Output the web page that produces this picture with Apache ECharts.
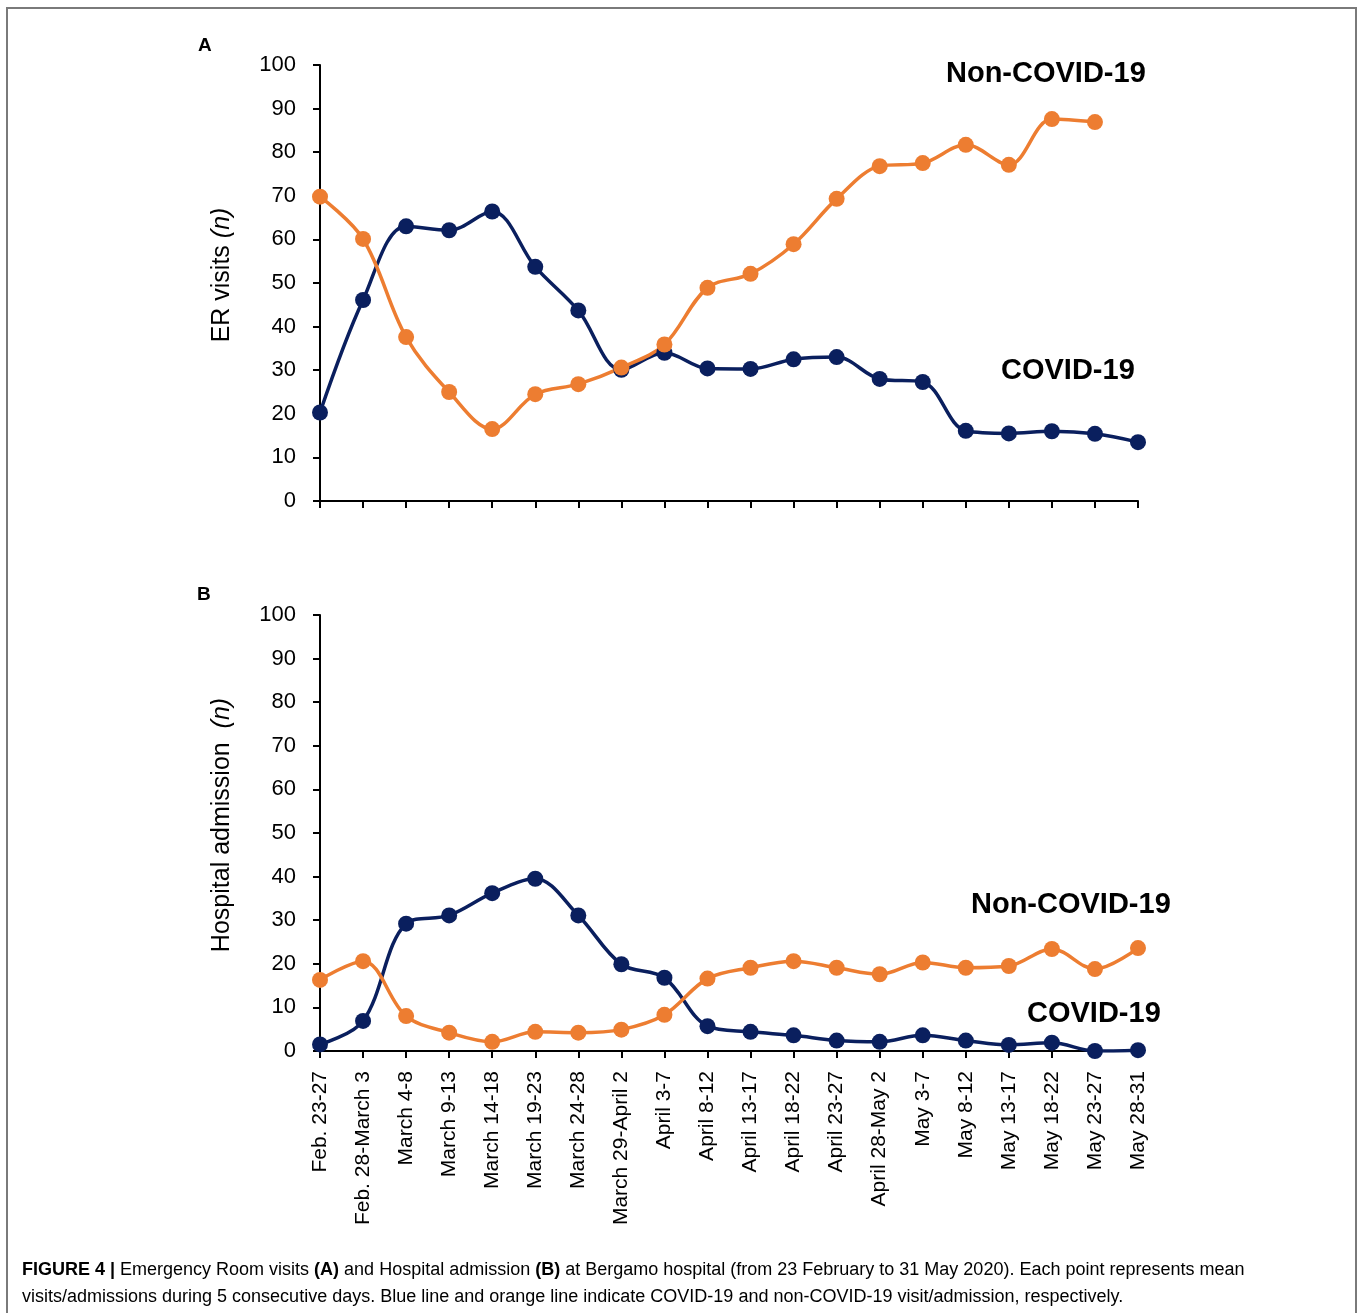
<!DOCTYPE html>
<html>
<head>
<meta charset="utf-8">
<script src="https://cdn.jsdelivr.net/npm/echarts@6/dist/echarts.min.js"></script>
<style>
html,body{margin:0;padding:0;background:#fff;}
#chart{width:1358px;height:1313px;}
</style>
</head>
<body>
<div id="chart"></div>
<script>
var categories = ['Feb. 23-27','Feb. 28-March 3','March 4-8','March 9-13','March 14-18','March 19-23','March 24-28','March 29-April 2','April 3-7','April 8-12','April 13-17','April 18-22','April 23-27','April 28-May 2','May 3-7','May 8-12','May 13-17','May 18-22','May 23-27','May 28-31'];

var erCovid = [20.3, 46.1, 63.0, 62.1, 66.4, 53.7, 43.7, 30.1, 34.0, 30.4, 30.3, 32.5, 33.0, 28.0, 27.3, 16.1, 15.5, 16.0, 15.4, 13.5];
var erNonCovid = [69.8, 60.1, 37.6, 25.0, 16.5, 24.5, 26.8, 30.6, 35.9, 48.9, 52.1, 58.9, 69.3, 76.8, 77.5, 81.7, 77.1, 87.6, 86.9, null];

var admCovid = [1.5, 6.9, 29.2, 31.1, 36.2, 39.5, 31.1, 19.9, 16.8, 5.7, 4.4, 3.6, 2.4, 2.1, 3.6, 2.4, 1.4, 1.9, 0.0, 0.2];
var admNonCovid = [16.3, 20.6, 8.0, 4.2, 2.1, 4.4, 4.2, 4.9, 8.3, 16.6, 19.1, 20.6, 19.1, 17.6, 20.3, 19.1, 19.5, 23.4, 18.8, 23.6];

var yTicks = [0, 10, 20, 30, 40, 50, 60, 70, 80, 90, 100];

var seriesNames = ['COVID-19', 'Non-COVID-19'];
var panelLabels = ['A', 'B'];
var yTitlesMain = ['ER visits ', 'Hospital admission  '];
var captionParts = [
  ['FIGURE 4 |', true], [' Emergency Room visits ', false], ['(A)', true], [' and Hospital admission ', false], ['(B)', true],
  [' at Bergamo hospital (from 23 February to 31 May 2020). Each point represents mean', false]
];
var captionLine2 = 'visits/admissions during 5 consecutive days. Blue line and orange line indicate COVID-19 and non-COVID-19 visit/admission, respectively.';

var BLUE = '#0a1f5e';
var ORANGE = '#ed7d31';
var FONT = '"Liberation Sans", Arial, Helvetica, sans-serif';

var chart = echarts.init(document.getElementById('chart'), null, {renderer: 'canvas'});

function xAxis(gi, showLabels) {
  return {
    type: 'category', gridIndex: gi, data: categories, boundaryGap: false,
    axisLine: {lineStyle: {color: '#000', width: 2}},
    axisTick: {show: true, alignWithLabel: true, length: 7, lineStyle: {color: '#000', width: 2}},
    axisLabel: {show: showLabels, rotate: 90, interval: 0, margin: 20, color: '#000', fontSize: 21, fontFamily: FONT},
    splitLine: {show: false}
  };
}
function yAxis(gi, title) {
  return {
    type: 'value', gridIndex: gi, min: 0, max: 100, interval: 10,
    axisLine: {show: true, lineStyle: {color: '#000', width: 2}},
    axisTick: {show: true, length: 7, lineStyle: {color: '#000', width: 2}},
    axisLabel: {margin: 24, color: '#000', fontSize: 22, fontFamily: FONT,
      formatter: function (v) { return yTicks.indexOf(v) >= 0 ? String(v) : ''; }},
    splitLine: {show: false},
    name: '{p|}{m|' + title + '}{i|(n)}', nameLocation: 'middle', nameGap: 85, nameRotate: 90,
    nameTextStyle: {
      rich: {
        p: {width: 16, fontSize: 25},
        m: {fontSize: 25, fontFamily: FONT, color: '#000'},
        i: {fontSize: 25, fontFamily: FONT, color: '#000', fontStyle: 'italic'}
      }
    }
  };
}
function lineSeries(name, data, color, xi, yi) {
  return {
    name: name, type: 'line', xAxisIndex: xi, yAxisIndex: yi, data: data,
    smooth: 0.35, connectNulls: false,
    symbol: 'circle', symbolSize: 16,
    lineStyle: {color: color, width: 3.5},
    itemStyle: {color: color},
    animation: false
  };
}

var capRich = {
  b: {fontFamily: FONT, fontSize: 18, fontWeight: 'bold', color: '#222'},
  n: {fontFamily: FONT, fontSize: 18, color: '#333'}
};
var cap1 = captionParts.map(function (p) { return '{' + (p[1] ? 'b' : 'n') + '|' + p[0] + '}'; }).join('');

function bigText(txt, x, y) {
  return {type: 'text', left: x, top: y, style: {text: txt, fill: '#000', font: 'bold 29px ' + FONT}};
}

chart.setOption({
  backgroundColor: '#fff',
  animation: false,
  grid: [
    {left: 320, top: 65, width: 818, height: 436, containLabel: false},
    {left: 320, top: 615, width: 818, height: 436, containLabel: false}
  ],
  xAxis: [xAxis(0, false), xAxis(1, true)],
  yAxis: [yAxis(0, yTitlesMain[0]), yAxis(1, yTitlesMain[1])],
  series: [
    lineSeries(seriesNames[0], erCovid, BLUE, 0, 0),
    lineSeries(seriesNames[1], erNonCovid, ORANGE, 0, 0),
    lineSeries(seriesNames[0], admCovid, BLUE, 1, 1),
    lineSeries(seriesNames[1], admNonCovid, ORANGE, 1, 1)
  ],
  graphic: [
    {type: 'rect', shape: {x: 7, y: 8, width: 1349, height: 1340}, style: {fill: 'none', stroke: '#7a7a7a', lineWidth: 2}, silent: true},
    {type: 'text', left: 198, top: 36, style: {text: panelLabels[0], fill: '#000', font: 'bold 19px ' + FONT}},
    {type: 'text', left: 197, top: 585, style: {text: panelLabels[1], fill: '#000', font: 'bold 19px ' + FONT}},
    bigText(seriesNames[1], 946, 59),
    bigText(seriesNames[0], 1001, 356),
    bigText(seriesNames[1], 971, 890),
    bigText(seriesNames[0], 1027, 999),
    {type: 'text', left: 22, top: 1261, style: {rich: capRich, text: cap1}},
    {type: 'text', left: 22, top: 1288, style: {rich: capRich, text: '{n|' + captionLine2 + '}'}}
  ]
});
</script>
</body>
</html>
